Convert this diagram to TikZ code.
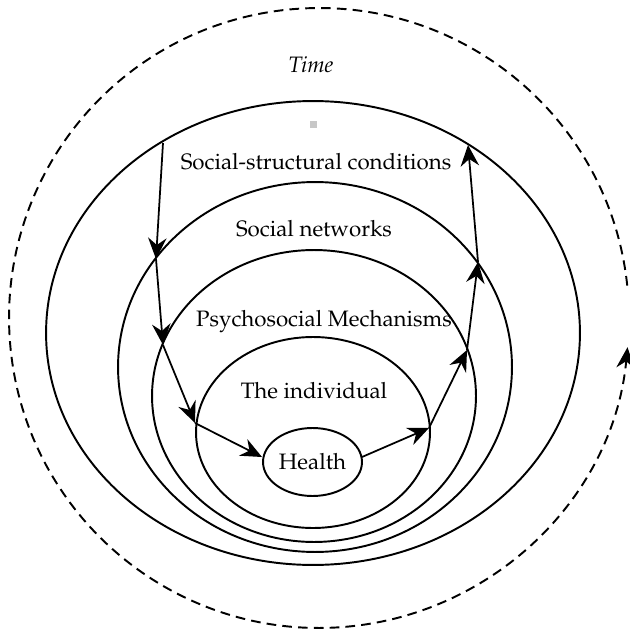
\documentclass[tikz,border=0pt]{standalone}
\usepackage[T1]{fontenc}
\usepackage{mathpazo}
\usetikzlibrary{arrows.meta,shapes.geometric}
\tikzset{
  >={Stealth[length=12pt,width=10.5pt,inset=4pt]},
  x=0.02cm, y=-0.02cm,
}
\tikzstyle{ring}=[line width=1.1pt]
\tikzstyle{flow}=[line width=1pt,->]
\tikzstyle{timeline}=[line width=1.1pt,dash pattern=on 5.5pt off 3.5pt,->]
\tikzstyle{every node}=[font=\fontsize{12.7}{15}\selectfont]

\begin{document}
\begin{tikzpicture}
    \useasboundingbox (0,0) rectangle (629,631);
    % time around everything
    \coordinate (tc) at (319,318);
    \draw[timeline] (tc) ++(6:6.2cm) arc[start angle=6,end angle=354.6,radius=6.2cm];
    \node (time) at (311,65) {\itshape Time};
    \node[fill=black!22,inner sep=0,minimum size=0.14cm] (dot) at (313,125) {};
    % the nested levels
    \draw[ring] (313,333) ellipse[x radius=5.34cm,y radius=4.64cm];
    \draw[ring] (315,367) ellipse[x radius=3.94cm,y radius=3.70cm];
    \draw[ring] (314,396) ellipse[x radius=3.24cm,y radius=2.92cm];
    \draw[ring] (313,432.5) ellipse[x radius=2.34cm,y radius=1.91cm];
    \node[ring,draw,ellipse,inner sep=0,minimum width=1.98cm,minimum height=1.36cm]
      (health) at (312.5,462) {Health};
    \node (struct) at (316,162) {Social-structural conditions};
    \node (netw) at (314,229) {Social networks};
    \node (psych) at (324,322) {Psychosocial Mechanisms};
    \node (indiv) at (314,391) {The individual};
    % pathway down and back up
    \coordinate (a0) at (163,143);
    \coordinate (a1) at (156,259);
    \coordinate (a2) at (163,345);
    \coordinate (a3) at (195,423);
    \coordinate (a4) at (262,457);
    \coordinate (b0) at (362,457);
    \coordinate (b1) at (429,428);
    \coordinate (b2) at (467,350);
    \coordinate (b3) at (478,262);
    \coordinate (b4) at (468,145);
    \draw[flow] (a0) -- (a1);
    \draw[flow] (a1) -- (a2);
    \draw[flow] (a2) -- (a3);
    \draw[flow] (a3) -- (a4);
    \draw[flow] (b0) -- (b1);
    \draw[flow] (b1) -- (b2);
    \draw[flow] (b2) -- (b3);
    \draw[flow] (b3) -- (b4);
\end{tikzpicture}
\end{document}
